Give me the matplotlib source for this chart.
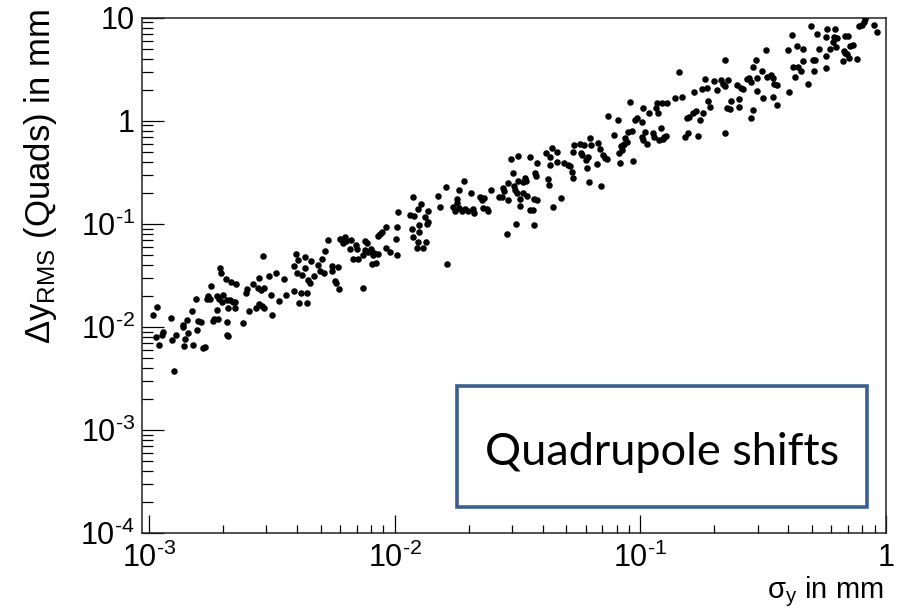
import numpy as np
import matplotlib
matplotlib.use("Agg")
import matplotlib.pyplot as plt
from matplotlib.ticker import LogLocator, FuncFormatter, NullFormatter
from matplotlib.patches import Rectangle

plt.rcParams['font.family'] = ['Liberation Sans', 'DejaVu Sans']
plt.rcParams['mathtext.fontset'] = 'custom'
plt.rcParams['mathtext.rm'] = 'Liberation Sans'
plt.rcParams['mathtext.it'] = 'Liberation Sans:italic'
plt.rcParams['mathtext.bf'] = 'Liberation Sans:bold'
plt.rcParams['mathtext.sf'] = 'Liberation Sans'

# Points, stored as (log10 sigma_y [mm], log10 dy_RMS [mm])
pts_1e3 = [(-2.983,-1.886),(-2.966,-1.806),(-2.973,-2.103),(-2.958,-2.178),(-2.948,-2.081),(-2.942,-2.049),
    (-2.912,-1.909),(-2.905,-2.129),(-2.890,-2.081),(-2.898,-2.430),(-2.860,-1.984),(-2.863,-2.006),
    (-2.853,-2.122),(-2.856,-2.185),(-2.840,-2.064),(-2.844,-1.935),(-2.824,-1.848),(-2.820,-2.178),
    (-2.810,-1.731),(-2.803,-2.032),(-2.799,-1.942),(-2.790,-1.952),(-2.781,-2.204),(-2.772,-2.194),
    (-2.765,-1.731),(-2.759,-1.699),(-2.749,-1.605),(-2.752,-1.734),(-2.741,-1.945),(-2.735,-1.919),
    (-2.724,-1.838),(-2.718,-1.919),(-2.722,-1.702),(-2.711,-1.433),(-2.708,-1.476),(-2.714,-1.734),
    (-2.704,-1.757),(-2.700,-1.692),(-2.687,-1.540),(-2.681,-1.741),(-2.677,-1.812),(-2.684,-1.952),
    (-2.684,-2.081),(-2.677,-2.088),(-2.667,-1.569),(-2.670,-1.741),(-2.659,-1.757),(-2.646,-1.588),
    (-2.650,-1.757),(-2.650,-1.821),(-2.616,-1.961),(-2.605,-1.676),(-2.600,-1.637),(-2.592,-1.845),
    (-2.575,-1.588),(-2.565,-1.812),(-2.555,-1.627),(-2.551,-1.530),(-2.545,-1.644),(-2.551,-1.780),
    (-2.541,-1.799),(-2.532,-1.618),(-2.532,-1.812),(-2.535,-1.311),(-2.510,-1.505),(-2.503,-1.692),
    (-2.501,-1.880),(-2.483,-1.482),(-2.470,-1.748),(-2.451,-1.537),(-2.442,-1.692),(-2.410,-1.651),
    (-2.402,-1.294),(-2.410,-1.411),(-2.392,-1.353),(-2.396,-1.476),(-2.388,-1.773),(-2.383,-1.670),
    (-2.379,-1.498),(-2.365,-1.326),(-2.365,-1.433),(-2.358,-1.767),(-2.356,-1.670),(-2.352,-1.547),
    (-2.345,-1.579),(-2.342,-1.359),(-2.328,-1.508),(-2.311,-1.401),(-2.304,-1.456),(-2.297,-1.346),
    (-2.288,-1.476),(-2.284,-1.262),(-2.256,-1.411),(-2.256,-1.456),(-2.243,-1.553),(-2.239,-1.579),
    (-2.230,-1.423),(-2.225,-1.637)]

pts_1e2 = [(-2.270,-1.158),(-2.223,-1.152),(-2.209,-1.190),(-2.202,-1.132),(-2.198,-1.168),(-2.179,-1.158),
    (-2.182,-1.249),(-2.171,-1.346),(-2.157,-1.207),(-2.152,-1.249),(-2.148,-1.346),(-2.130,-1.304),
    (-2.128,-1.618),(-2.121,-1.165),(-2.114,-1.190),(-2.121,-1.255),(-2.107,-1.272),(-2.098,-1.249),
    (-2.094,-1.391),(-2.090,-1.304),(-2.084,-1.287),(-2.076,-1.379),(-2.067,-1.297),(-2.067,-1.120),
    (-2.060,-1.100),(-2.053,-1.078),(-2.035,-1.035),(-2.035,-1.239),(-2.019,-1.272),(-1.995,-1.152),
    (-1.989,-1.035),(-1.992,-1.304),(-1.988,-0.884),(-1.938,-0.916),(-1.927,-0.738),(-1.920,-0.925),
    (-1.931,-1.052),(-1.927,-1.132),(-1.910,-1.239),(-1.904,-1.175),(-1.901,-1.078),(-1.900,-1.013),
    (-1.894,-0.809),(-1.904,-0.860),(-1.886,-1.239),(-1.877,-0.932),(-1.873,-1.175),(-1.870,-1.003),
    (-1.863,-0.981),(-1.866,-0.874),(-1.823,-0.728),(-1.816,-0.841),(-1.791,-0.641),(-1.786,-1.391),
    (-1.762,-0.835),(-1.755,-0.874),(-1.748,-0.796),(-1.745,-0.760),(-1.737,-0.673),(-1.737,-0.851),
    (-1.727,-0.874),(-1.718,-0.583),(-1.714,-0.860),(-1.700,-0.874),(-1.691,-0.705),(-1.680,-0.860),
    (-1.677,-0.899),(-1.653,-0.738),(-1.646,-0.770),(-1.642,-0.851),(-1.637,-0.753),(-1.626,-0.860),
    (-1.619,-0.874),(-1.609,-0.673),(-1.574,-0.744)]

pts_3e2 = [(-1.565,-0.738),(-1.558,-0.656),(-1.555,-0.680),(-1.544,-1.103),(-1.540,-0.770),(-1.538,-0.602),
    (-1.527,-0.375),(-1.517,-0.505),(-1.514,-0.634),(-1.510,-0.673),(-1.506,-1.003),(-1.501,-0.705),
    (-1.499,-0.343),(-1.497,-0.583),(-1.490,-0.757),(-1.490,-0.828),(-1.479,-0.699),(-1.477,-0.592),
    (-1.470,-0.559),(-1.466,-0.583),(-1.460,-0.731),(-1.449,-0.355),(-1.449,-0.867),(-1.438,-0.867),
    (-1.433,-0.763),(-1.433,-1.016),(-1.429,-0.511),(-1.425,-0.537),(-1.422,-0.770),(-1.420,-0.414),
    (-1.384,-0.311),(-1.375,-0.569),(-1.371,-0.624),(-1.368,-0.355),(-1.368,-0.430),(-1.361,-0.268),
    (-1.357,-0.841),(-1.341,-0.398),(-1.338,-0.301),(-1.323,-0.753),(-1.311,-0.414),(-1.293,-0.430),
    (-1.287,-0.440),(-1.280,-0.495),(-1.276,-0.559),(-1.273,-0.307),(-1.270,-0.236),(-1.246,-0.226),
    (-1.243,-0.317),(-1.239,-0.333),(-1.230,-0.236),(-1.221,-0.382),(-1.219,-0.456),(-1.212,-0.355),
    (-1.208,-0.592),(-1.205,-0.171),(-1.202,-0.236),(-1.178,-0.420),(-1.171,-0.214),(-1.164,-0.278),
    (-1.162,-0.634),(-1.153,-0.333),(-1.144,-0.365),(-1.137,-0.375),(-1.107,-0.139),(-1.090,0.007),
    (-1.086,-0.317),(-1.083,-0.414),(-1.080,-0.246),(-1.076,-0.285),(-1.072,-0.236),(-1.067,-0.226),
    (-1.063,-0.171),(-1.056,-0.204),(-1.049,-0.107),(-1.035,-0.097),(-1.029,-0.388),(-1.022,0.007)]

pts_1e1 = [(-1.131,0.046),(-1.042,0.184),(-1.014,0.026),(-0.995,-0.010),(-0.995,-0.161),(-0.991,-0.187),
    (-0.981,-0.107),(-0.974,-0.226),(-0.991,0.120),(-0.964,0.072),(-0.950,-0.117),(-0.945,-0.155),
    (-0.937,0.120),(-0.931,0.175),(-0.927,0.078),(-0.923,-0.187),(-0.917,-0.074),(-0.913,0.175),
    (-0.909,-0.181),(-0.904,-0.161),(-0.896,-0.149),(-0.893,0.175),(-0.859,0.217),(-0.842,0.476),
    (-0.832,0.227),(-0.818,-0.161),(-0.809,0.023),(-0.805,-0.117),(-0.801,0.033),(-0.787,0.072),
    (-0.782,0.276),(-0.774,0.097),(-0.764,-0.149),(-0.757,0.007),(-0.750,0.305),(-0.746,0.078),
    (-0.737,0.402),(-0.728,0.315),(-0.724,0.194),(-0.717,0.130),(-0.700,0.388),(-0.689,0.298),
    (-0.673,0.395),(-0.665,0.356),(-0.656,0.337),(-0.656,0.589),(-0.656,-0.122),(-0.646,0.120),
    (-0.642,0.395),(-0.635,0.111),(-0.632,0.194),(-0.608,0.347),(-0.597,0.208),(-0.597,0.136),
    (-0.592,0.315),(-0.584,0.305),(-0.567,0.402),(-0.557,0.412),(-0.551,0.379),(-0.551,0.023),
    (-0.543,0.104),(-0.543,0.518),(-0.530,0.589),(-0.527,0.412),(-0.524,0.291),(-0.506,0.485),
    (-0.500,0.217),(-0.486,0.427),(-0.470,0.444),(-0.462,0.412),(-0.459,0.227),(-0.456,0.356),
    (-0.445,0.347),(-0.443,0.152),(-0.394,0.282),(-0.380,0.518),(-0.371,0.427),(-0.357,0.524)]

pts_top = [(-0.489,0.686),(-0.384,0.832),(-0.398,0.686),(-0.361,0.725),(-0.337,0.693),(-0.339,0.583),
    (-0.348,0.485),(-0.317,0.356),(-0.307,0.919),(-0.299,0.589),(-0.289,0.589),(-0.292,0.485),
    (-0.280,0.842),(-0.272,0.693),(-0.245,0.628),(-0.245,0.509),(-0.245,0.810),(-0.242,0.887),
    (-0.228,0.693),(-0.217,0.767),(-0.212,0.810),(-0.208,0.887),(-0.204,0.713),(-0.201,0.800),
    (-0.177,0.583),(-0.171,0.680),(-0.167,0.822),(-0.167,0.660),(-0.160,0.648),(-0.154,0.822),
    (-0.150,0.606),(-0.147,0.725),(-0.136,0.735),(-0.120,0.596),(-0.109,0.919),(-0.099,0.929),
    (-0.090,0.961),(-0.086,0.984),(-0.049,0.929),(-0.036,0.864)]

all_pts = np.array(pts_1e3 + pts_1e2 + pts_3e2 + pts_1e1 + pts_top)
sigma_y = 10.0 ** all_pts[:, 0]
dy_rms = 10.0 ** all_pts[:, 1]

x_limits = (10 ** -3.0285, 1.0)
y_limits = (1e-4, 10.0)
box_text = 'Quadrupole shifts'

W, H = 904, 614
fig = plt.figure(figsize=(W / 100, H / 100), dpi=100)
ax = fig.add_axes([142 / W, 1 - 533 / H, 744 / W, 515.3 / H])

ax.plot(sigma_y, dy_rms, 'o', color='black', ms=4.7, mec='none', zorder=3)
ax.set_xscale('log')
ax.set_yscale('log')
ax.set_xlim(*x_limits)
ax.set_ylim(*y_limits)


def fmt(v, pos):
    e = int(round(np.log10(v)))
    if e == 0:
        return '1'
    if e == 1:
        return '10'
    return r'$10^{\text{-}%d}$' % (-e)


for axis in (ax.xaxis, ax.yaxis):
    axis.set_major_locator(LogLocator(base=10, numticks=20))
    axis.set_minor_locator(LogLocator(base=10, subs=np.arange(2, 10), numticks=30))
    axis.set_major_formatter(FuncFormatter(fmt))
    axis.set_minor_formatter(NullFormatter())

ax.tick_params(which='both', direction='in', top=False, right=False, labelsize=22, width=0.9, color='black')
ax.tick_params(axis='y', which='major', length=16, pad=5)
ax.tick_params(axis='y', which='minor', length=8)
ax.tick_params(axis='x', which='major', length=13, pad=7)
ax.tick_params(axis='x', which='minor', length=6)
for s in ax.spines.values():
    s.set_linewidth(1.1)
    s.set_color('#222222')

ax.set_ylabel(r'Δy$_{\mathrm{RMS}}$ (Quads) in mm', fontsize=25, loc='top')
ax.yaxis.set_label_coords(-0.112, 1.017)
ax.set_xlabel(r'σ$_{\mathrm{y}}$ in mm', fontsize=21, loc='right')
ax.xaxis.set_label_coords(0.997, -0.080)

rect = Rectangle((457 / W, 1 - 507 / H), (867 - 457) / W, (507 - 386) / H,
                 transform=fig.transFigure, facecolor='white', edgecolor='#3D5F8F', lw=2.6, zorder=5)
fig.add_artist(rect)
fig.text(662.5 / W, 1 - 465 / H, box_text, fontsize=32.5, family=['Lato', 'DejaVu Sans'],
         ha='center', va='baseline', zorder=6)

fig.savefig('out.png', dpi=100)
